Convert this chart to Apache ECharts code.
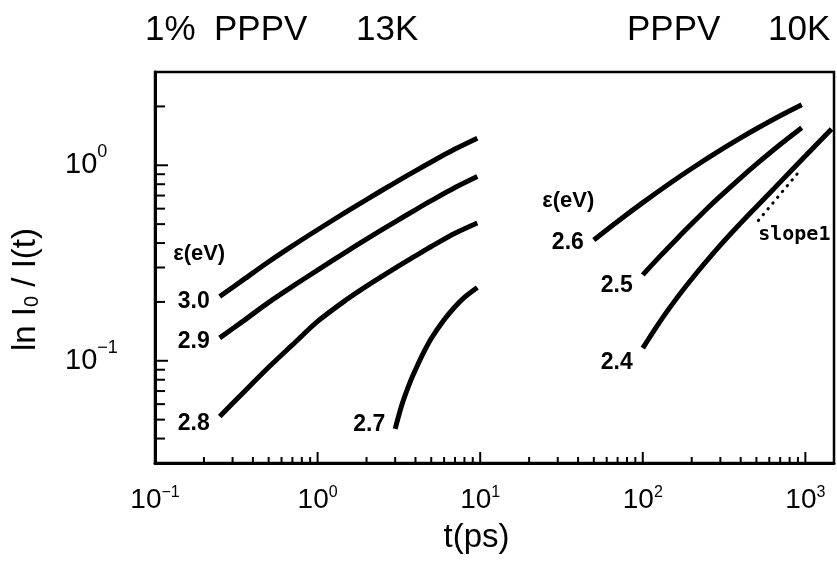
<!DOCTYPE html>
<html>
<head>
<meta charset="utf-8">
<script src="https://cdn.jsdelivr.net/npm/echarts@6/dist/echarts.min.js"></script>
<style>
  html, body { margin: 0; padding: 0; background: #fff; }
  #chart { width: 837px; height: 563px; }
</style>
</head>
<body>
<div id="chart"></div>
<script>
// Axis ranges (log-log)
const X_MIN = 0.1, X_MAX = 1500;
const Y_MIN = 0.03, Y_MAX = 3;

// ln I0/I(t) versus t(ps), one curve per probe energy ε (eV)
// 1% PPPV at 13 K
const curve30 = [[0.25,0.213],[0.35,0.260],[0.5,0.321],[0.7,0.387],[1,0.468],[1.5,0.578],[2,0.668],[3,0.816],[4,0.937],[5,1.04],[7,1.21],[9.6,1.375]];
const curve29 = [[0.25,0.131],[0.35,0.160],[0.5,0.199],[0.7,0.240],[1,0.291],[1.5,0.361],[2,0.419],[3,0.514],[4,0.592],[5,0.659],[7,0.770],[9.6,0.877]];
const curve28 = [[0.25,0.0519],[0.35,0.0689],[0.5,0.0926],[0.7,0.1205],[1,0.159],[1.5,0.205],[2,0.241],[3,0.298],[4,0.344],[5,0.384],[7,0.449],[9.6,0.507]];
const curve27 = [[3,0.0448],[3.3,0.0596],[3.7,0.0775],[4,0.090],[4.5,0.1106],[5,0.130],[6,0.162],[7,0.189],[8,0.211],[9.6,0.237]];
// PPPV at 10 K
const curve26 = [[50,0.415],[70,0.516],[100,0.644],[150,0.819],[200,0.963],[300,1.194],[400,1.38],[500,1.537],[700,1.792],[950,2.04]];
const curve25 = [[100,0.275],[130,0.348],[170,0.438],[200,0.502],[250,0.603],[300,0.695],[400,0.863],[500,1.014],[700,1.278],[950,1.557]];
const curve24 = [[100,0.116],[120,0.147],[150,0.192],[200,0.262],[300,0.390],[400,0.506],[500,0.614],[700,0.820],[1000,1.115],[1450,1.534]];
// reference line of slope 1
const slopeOne = [[514,0.522],[931,0.945]];

const curves = [curve30, curve29, curve28, curve27, curve26, curve25, curve24];
const curveNames = ['3.0', '2.9', '2.8', '2.7', '2.6', '2.5', '2.4'];
const curveLabelDy = [5, 4, 7, -4, 3, 11, 14];

// tick mantissas for the log axes
const mantissas = [1, 2, 3, 4, 5, 6, 7, 8, 9];

function tickList(lo, hi) {
  const out = [];
  for (let d = Math.floor(Math.log10(lo)); d <= Math.ceil(Math.log10(hi)); d++) {
    for (const m of mantissas) {
      const v = +(m * Math.pow(10, d)).toPrecision(6);
      if (v > lo * 1.001 && v < hi * 0.999) out.push([v, m === 1 ? 1 : 0]);
    }
  }
  return out;
}

const tickData = []
  .concat(tickList(X_MIN, X_MAX).map(t => [t[0], Y_MIN, 0, t[1]]))
  .concat(tickList(Y_MIN, Y_MAX).map(t => [X_MIN, t[0], 1, t[1]]));

function powLabel(v) {
  const lg = Math.log10(v);
  const e = Math.round(lg);
  if (Math.abs(lg - e) > 1e-6) return '';
  return '{b|10}{s|' + (e < 0 ? '\u2212' + (-e) : e) + '}';
}

const FONT = 'Liberation Sans';

const series = curves.map((c, i) => ({
  type: 'line',
  name: curveNames[i],
  data: c,
  showSymbol: false,
  smooth: 0.3,
  silent: true,
  lineStyle: { color: '#000', width: 5 },
  z: 3
}));

series.push({
  type: 'line',
  data: slopeOne,
  showSymbol: false,
  silent: true,
  lineStyle: { color: '#000', width: 3, type: [0.5, 7], cap: 'round' },
  z: 3
});

const textLabel = { color: '#000', opacity: 1, textBorderWidth: 0, textShadowBlur: 0 };

// ε labels at the start of each curve
series.push({
  type: 'scatter',
  silent: true,
  symbolSize: 0,
  itemStyle: { color: '#000', opacity: 1 },
  data: curves.map((c, i) => ({
    value: c[0],
    label: Object.assign({
      show: true, position: 'left', distance: 10, offset: [0, curveLabelDy[i]],
      formatter: curveNames[i], fontFamily: FONT, fontSize: 23, fontWeight: 'bold'
    }, textLabel)
  })),
  z: 4
});

// text annotations placed in data coordinates
series.push({
  type: 'scatter',
  silent: true,
  symbolSize: 0,
  itemStyle: { color: '#000', opacity: 1 },
  data: [
    { value: [0.187, 0.35], label: { formatter: 'ε(eV)' } },
    { value: [34.8, 0.654], label: { formatter: 'ε(eV)' } },
    { value: [855, 0.443], label: { formatter: 'slope1', fontFamily: 'DejaVu Sans Mono', fontSize: 20 } }
  ],
  label: Object.assign({ show: true, position: 'inside', fontFamily: FONT, fontSize: 22, fontWeight: 'bold' }, textLabel),
  z: 4
});

// inward minor/major ticks on the bottom and left axes
series.push({
  type: 'custom',
  silent: true,
  clip: false,
  data: tickData,
  encode: { x: 0, y: 1 },
  renderItem: function (params, api) {
    const dir = api.value(2), major = api.value(3);
    const p = api.coord([api.value(0), api.value(1)]);
    const len = dir === 0 ? (major ? 11 : 6) : (major ? 13 : 10);
    const shape = dir === 0
      ? { x1: p[0], y1: p[1], x2: p[0], y2: p[1] - len }
      : { x1: p[0], y1: p[1], x2: p[0] + len, y2: p[1] };
    return { type: 'line', shape: shape, style: { stroke: '#000', lineWidth: 2 } };
  },
  z: 5
});

const titleStyle = { fontFamily: FONT, fontSize: 35, fontWeight: 'normal', color: '#000' };

const option = {
  animation: false,
  backgroundColor: '#fff',
  title: [
    { text: '1%', left: 145, top: 13, padding: 0, textStyle: titleStyle },
    { text: 'PPPV', left: 214, top: 13, padding: 0, textStyle: titleStyle },
    { text: '13K', left: 356, top: 13, padding: 0, textStyle: titleStyle },
    { text: 'PPPV', left: 627, top: 13, padding: 0, textStyle: titleStyle },
    { text: '10K', left: 768, top: 13, padding: 0, textStyle: titleStyle }
  ],
  grid: {
    left: 155, right: 3, top: 72, bottom: 100,
    show: true, borderColor: '#000', borderWidth: 2.5,
    containLabel: false, outerBoundsMode: 'none'
  },
  xAxis: {
    type: 'log', logBase: 10, min: X_MIN, max: X_MAX,
    name: 't(ps)', nameLocation: 'middle', nameGap: 58,
    nameTextStyle: { fontFamily: FONT, fontSize: 33, color: '#000', padding: [0, 36, 0, 0] },
    axisLine: { show: true, lineStyle: { color: '#000', width: 3 } },
    axisTick: { show: false },
    splitLine: { show: false },
    minorTick: { show: false },
    axisLabel: {
      margin: 22, formatter: powLabel, color: '#000',
      rich: {
        b: { fontFamily: FONT, fontSize: 28, lineHeight: 30, color: '#000' },
        s: { fontFamily: FONT, fontSize: 16, lineHeight: 16, verticalAlign: 'top', color: '#000' }
      }
    }
  },
  yAxis: {
    type: 'log', logBase: 10, min: Y_MIN, max: Y_MAX,
    name: 'ln I{sub|0} / I(t)', nameLocation: 'middle', nameGap: 113, nameRotate: 90,
    nameTextStyle: {
      fontFamily: FONT, fontSize: 33, color: '#000', padding: [0, 44, 0, 0],
      rich: {
        sub: { fontFamily: FONT, fontSize: 20, lineHeight: 20, verticalAlign: 'bottom', color: '#000' }
      }
    },
    axisLine: { show: true, lineStyle: { color: '#000', width: 3 } },
    axisTick: { show: false },
    splitLine: { show: false },
    minorTick: { show: false },
    axisLabel: {
      margin: 90, align: 'left', formatter: powLabel, color: '#000',
      rich: {
        b: { fontFamily: FONT, fontSize: 29, lineHeight: 44, color: '#000' },
        s: { fontFamily: FONT, fontSize: 18, lineHeight: 16, verticalAlign: 'top', color: '#000' }
      }
    }
  },
  series: series
};

const chart = echarts.init(document.getElementById('chart'), null, { renderer: 'canvas' });
chart.setOption(option);
</script>
</body>
</html>
